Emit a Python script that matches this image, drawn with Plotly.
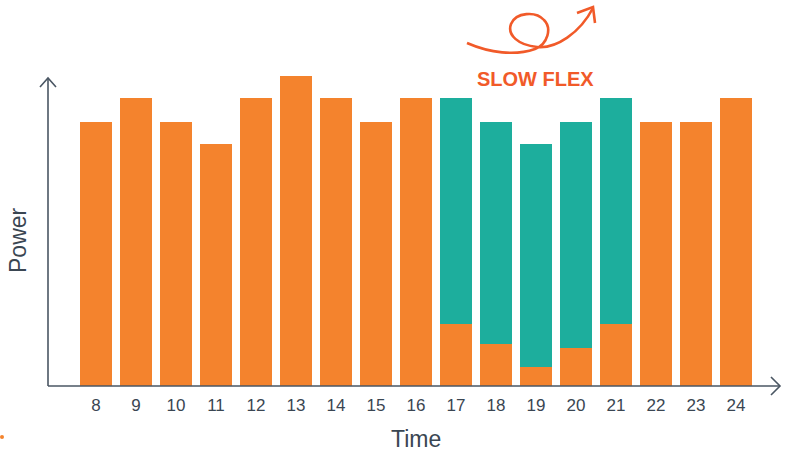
import plotly.graph_objects as go

# Hourly power profile: base load (orange) and the slow-flex share (teal)
hours = [8, 9, 10, 11, 12, 13, 14, 15, 16, 17, 18, 19, 20, 21, 22, 23, 24]
hour_labels = [str(h) for h in hours]
power_base = [11.0, 12.0, 11.0, 10.1, 12.0, 12.9, 12.0, 11.0, 12.0,
              2.6, 1.75, 0.8, 1.6, 2.6, 11.0, 11.0, 12.0]
power_flex = [0, 0, 0, 0, 0, 0, 0, 0, 0,
              9.4, 9.25, 9.3, 9.4, 9.4, 0, 0, 0]

ORANGE = "#F4832D"
TEAL = "#1DAE9D"
AXIS = "#4A5663"
TEXT = "#3A4652"
ACCENT = "#F15A29"

W, H = 785, 452
ML, MR, MT, MB = 48, 5, 70, 66
PW, PH = W - ML - MR, H - MT - MB
X0 = 8 - 48 / 40
X1 = X0 + PW / 40
Y1 = PH / 24


def px(x):
    return (x - ML) / PW


def py(y):
    return (H - MB - y) / PH


def path(points):
    return "M " + " L ".join(f"{px(x):.5f},{py(y):.5f}" for x, y in points)


fig = go.Figure()
fig.add_trace(go.Bar(x=hours, y=power_base, marker=dict(color=ORANGE, line=dict(width=0)),
                     width=0.8, showlegend=False, hoverinfo="skip"))
fig.add_trace(go.Bar(x=hours, y=power_flex, marker=dict(color=TEAL, line=dict(width=0)),
                     width=0.8, showlegend=False, hoverinfo="skip"))

shapes = []
# axes with open arrowheads
axis_line = dict(color=AXIS, width=1.6)
shapes.append(dict(type="path", xref="paper", yref="paper",
                   path=path([(48, 386), (780, 386)]), line=axis_line))
shapes.append(dict(type="path", xref="paper", yref="paper",
                   path=path([(771, 377), (780, 386), (771, 395)]), line=axis_line))
shapes.append(dict(type="path", xref="paper", yref="paper",
                   path=path([(48, 386), (48, 78)]), line=axis_line))
shapes.append(dict(type="path", xref="paper", yref="paper",
                   path=path([(40, 87), (48, 78), (56, 87)]), line=axis_line))

# curly "slow flex" arrow
curl_pts = [(467, 43),
            (490, 53), (515, 56), (535, 49),
            (548, 44), (552, 28), (544, 20),
            (536, 11), (516, 12), (511, 24),
            (507, 35), (518, 45), (537, 47),
            (556, 49), (580, 33), (593, 8)]
d = f"M {px(curl_pts[0][0]):.5f},{py(curl_pts[0][1]):.5f}"
for i in range(1, len(curl_pts), 3):
    seg = curl_pts[i:i + 3]
    d += " C " + " ".join(f"{px(x):.5f},{py(y):.5f}" for x, y in seg)
curl_line = dict(color=ACCENT, width=2.6)
shapes.append(dict(type="path", xref="paper", yref="paper", path=d, line=curl_line))
shapes.append(dict(type="path", xref="paper", yref="paper",
                   path=path([(577, 13), (593, 7), (595, 23)]), line=curl_line))

# small dot at lower left
shapes.append(dict(type="circle", xref="paper", yref="paper",
                   x0=px(0), x1=px(4), y0=py(439), y1=py(435),
                   fillcolor=ORANGE, line=dict(width=0)))

font = "Liberation Sans, Arial, Helvetica, sans-serif"
annotations = [
    dict(text="Time", xref="paper", yref="paper", x=px(416), y=py(439),
         showarrow=False, font=dict(size=23, color=TEXT, family=font),
         xanchor="center", yanchor="middle"),
    dict(text="Power", xref="paper", yref="paper", x=px(18), y=py(240),
         showarrow=False, textangle=-90, font=dict(size=23, color=TEXT, family=font),
         xanchor="center", yanchor="middle"),
    dict(text="<b>SLOW FLEX</b>", xref="paper", yref="paper", x=px(535), y=py(79),
         showarrow=False, font=dict(size=20, color=ACCENT, family=font),
         xanchor="center", yanchor="middle"),
]

fig.update_layout(
    width=W, height=H,
    margin=dict(l=ML, r=MR, t=MT, b=MB, pad=0),
    paper_bgcolor="white", plot_bgcolor="white",
    barmode="stack",
    shapes=shapes,
    annotations=annotations,
    font=dict(family=font, color=TEXT),
    xaxis=dict(range=[X0, X1], tickvals=hours, ticktext=hour_labels,
               showgrid=False, zeroline=False, showline=False, ticks="",
               tickfont=dict(size=17, color=TEXT, family=font),
               ticklabelstandoff=7, fixedrange=True),
    yaxis=dict(range=[0, Y1], showgrid=False, zeroline=False, showline=False,
               showticklabels=False, ticks="", fixedrange=True),
)

fig.write_html("out.html", config={"displayModeBar": False})
